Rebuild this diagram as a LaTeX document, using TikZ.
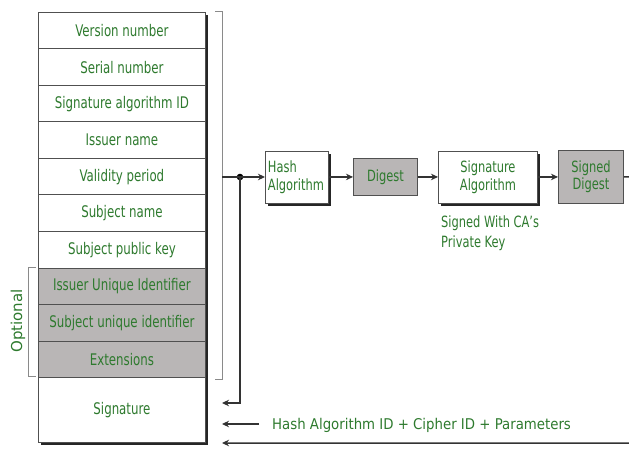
\documentclass[tikz,border=0pt]{standalone}
\usepackage{fontspec}
\setmainfont{DejaVu Sans Condensed}[FakeStretch=0.82]
\newfontfamily\widefont{DejaVu Sans}
\newfontfamily\condfont{DejaVu Sans Condensed}
\usetikzlibrary{arrows.meta}
\definecolor{txtgreen}{HTML}{2E7A2E}
\definecolor{boxgray}{HTML}{B9B6B6}
\definecolor{linegray}{HTML}{505050}
\definecolor{brgray}{HTML}{8A8A8A}
\tikzset{
  field/.style={draw=linegray, line width=0.9pt, fill=white, minimum width=167pt,
    minimum height=36.5pt, text=txtgreen, font=\fontsize{16}{17}\selectfont,
    inner sep=0pt, anchor=north west},
  optfield/.style={field, fill=boxgray},
  procbox/.style={draw=linegray, line width=0.9pt, fill=white, text=txtgreen,
    font=\fontsize{15.5}{17.5}\selectfont, inner sep=0pt, anchor=north west, align=center},
  graybox/.style={procbox, fill=boxgray},
  conn/.style={draw=black!80, line width=1.5pt, -{Stealth[length=7pt,width=6.5pt]}},
  brace/.style={draw=brgray, line width=1pt},
  lbl/.style={text=txtgreen, font=\fontsize{15.5}{20}\selectfont, inner sep=0pt}
}
\begin{document}
\begin{tikzpicture}[x=1pt,y=-1pt]
\useasboundingbox (0,0) rectangle (629,449);
\clip (0,0) rectangle (629,449);
% column shadow
\fill[black!85] (41,15) rectangle (208,445);
% fields
\node[field] (f1) at (38,12) {Version number};
\node[field] (f2) at (38,48.5) {Serial number};
\node[field] (f3) at (38,85) {Signature algorithm ID};
\node[field] (f4) at (38,121.5) {Issuer name};
\node[field] (f5) at (38,158) {Validity period};
\node[field] (f6) at (38,194.5) {Subject name};
\node[field] (f7) at (38,231) {Subject public key};
\node[optfield] (f8) at (38,267.5) {Issuer Unique Identifier};
\node[optfield] (f9) at (38,304) {Subject unique identifier};
\node[optfield] (f10) at (38,340.5) {Extensions};
\node[field, minimum height=65pt] (sig) at (38,377) {Signature};
% right bracket
\draw[brace] (215,12) -- (222,12) -- (222,379) -- (215,379);
% optional bracket
\draw[brace] (36,267) -- (28,267) -- (28,376) -- (36,376);
\node[rotate=90, text=txtgreen, font=\widefont\fontsize{15}{17}\selectfont] (opt) at (18,321) {Optional};
% processing boxes
\fill[black!85] (268,154) rectangle (331,206);
\node[procbox, minimum width=63pt, minimum height=52pt, align=left, text width=58pt] (hash) at (265,151) {Hash\\Algorithm};
\node[graybox, minimum width=64pt, minimum height=37pt] (dig) at (353,158) {Digest};
\fill[black!85] (441,154) rectangle (540,206);
\node[procbox, minimum width=99pt, minimum height=52pt] (sigalg) at (438,151) {Signature\\Algorithm};
\node[graybox, minimum width=65pt, minimum height=53pt] (sdig) at (558,150) {Signed\\Digest};
\node[lbl, anchor=north west, align=left] (ca) at (441,216) {Signed With CA's\\Private Key};
% connectors
\coordinate (split) at (222,177);
\coordinate (dot) at (240,177);
\fill[black] (dot) circle (3.3pt);
\draw[conn] (split) -- (hash.west |- split);
\draw[conn] (hash.east |- dig.west) -- (dig.west);
\draw[conn] (dig.east) -- (sigalg.west |- dig.east);
\draw[conn] (sigalg.east |- sdig.west) -- (sdig.west);
\coordinate (in1) at (222,403);
\coordinate (in2) at (222,424);
\coordinate (in3) at (222,443);
\draw[conn] (dot) -- (dot |- in1) -- (in1);
\node[lbl, anchor=west, font=\condfont\fontsize{14.8}{17}\selectfont] (hid) at (272,425) {Hash Algorithm ID + Cipher ID + Parameters};
\coordinate (s2) at (259,424);
\draw[conn] (s2) -- (in2);
\coordinate (edge) at (640,177);
\draw[conn] (sdig.east) -- (edge) -- (edge |- in3) -- (in3);
\end{tikzpicture}
\end{document}
